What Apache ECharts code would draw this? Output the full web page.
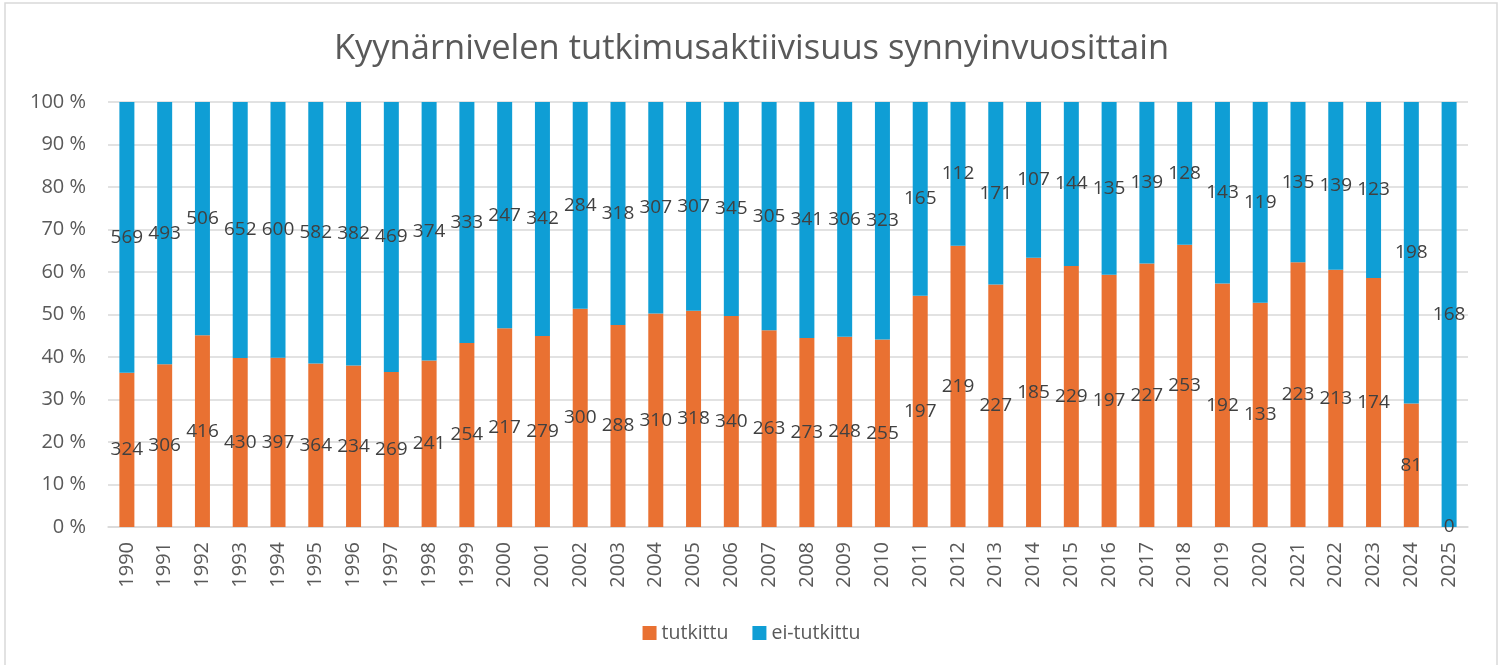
<!DOCTYPE html>
<html lang="fi">
<head>
    <meta charset="utf-8">
    <title>Kyynärnivelen tutkimusaktiivisuus</title>
    <script src="https://cdn.jsdelivr.net/npm/echarts@6/dist/echarts.min.js"></script>
    <style>
        html, body { margin: 0; padding: 0; background: #fff; }
        #chart { width: 1503px; height: 665px; }
    </style>
</head>
<body>
<div id="chart"></div>
<script>
    // synnyinvuodet
    var years = ['1990', '1991', '1992', '1993', '1994', '1995', '1996', '1997', '1998', '1999',
        '2000', '2001', '2002', '2003', '2004', '2005', '2006', '2007', '2008', '2009',
        '2010', '2011', '2012', '2013', '2014', '2015', '2016', '2017', '2018', '2019',
        '2020', '2021', '2022', '2023', '2024', '2025'];
    // tutkitut lukumäärät
    var tutkittu = [324, 306, 416, 430, 397, 364, 234, 269, 241, 254,
        217, 279, 300, 288, 310, 318, 340, 263, 273, 248,
        255, 197, 219, 227, 185, 229, 197, 227, 253, 192,
        133, 223, 213, 174, 81, 0];
    // ei-tutkitut lukumäärät
    var eiTutkittu = [569, 493, 506, 652, 600, 582, 382, 469, 374, 333,
        247, 342, 284, 318, 307, 307, 345, 305, 341, 306,
        323, 165, 112, 171, 107, 144, 135, 139, 128, 143,
        119, 135, 139, 123, 198, 168];

    var font = '"Open Sans", "Liberation Sans", Arial, sans-serif';

    // 100 % pinottu: osuudet lasketaan lukumääristä
    function share(arr, i) {
        var total = tutkittu[i] + eiTutkittu[i];
        return total ? arr[i] / total * 100 : 0;
    }
    var tutkittuPct = tutkittu.map((v, i) => ({value: share(tutkittu, i), raw: v}));
    var eiPct = eiTutkittu.map((v, i) => ({value: share(eiTutkittu, i), raw: v}));

    var labelStyle = {
        show: true,
        position: 'inside',
        color: '#404040',
        fontSize: 19,
        fontFamily: font,
        formatter: p => p.data.raw
    };

    var chart = echarts.init(document.getElementById('chart'));
    var option = {
        animation: false,
        title: {
            text: 'Kyynärnivelen tutkimusaktiivisuus synnyinvuosittain',
            left: 'center',
            top: 27,
            textStyle: {fontSize: 34.5, fontWeight: 'normal', color: '#595959', fontFamily: font}
        },
        legend: {
            bottom: 17,
            left: 'center',
            itemWidth: 14,
            itemHeight: 14,
            itemGap: 24,
            icon: 'rect',
            textStyle: {fontSize: 19.5, color: '#595959', fontFamily: font},
            data: ['tutkittu', 'ei-tutkittu']
        },
        graphic: [{
            type: 'rect',
            shape: {x: 5, y: 3, width: 1492, height: 670},
            style: {fill: 'none', stroke: '#d9d9d9', lineWidth: 1.5},
            silent: true
        }],
        grid: {left: 108, right: 35, top: 102, bottom: 138},
        xAxis: {
            type: 'category',
            data: years,
            axisTick: {show: false},
            axisLine: {lineStyle: {color: '#d9d9d9', width: 1.5}},
            axisLabel: {rotate: 90, margin: 15, fontSize: 20, color: '#595959', fontFamily: font}
        },
        yAxis: {
            type: 'value',
            min: 0,
            max: 100,
            interval: 10,
            axisLine: {show: false},
            axisTick: {show: false},
            splitLine: {lineStyle: {color: '#d9d9d9', width: 1.5}},
            axisLabel: {formatter: '{value} %', margin: 22, fontSize: 20, color: '#595959', fontFamily: font}
        },
        series: [
            {
                name: 'tutkittu',
                type: 'bar',
                stack: 'all',
                barWidth: 15,
                itemStyle: {color: '#E97132'},
                label: labelStyle,
                data: tutkittuPct
            },
            {
                name: 'ei-tutkittu',
                type: 'bar',
                stack: 'all',
                barWidth: 15,
                itemStyle: {color: '#0F9ED5'},
                label: labelStyle,
                data: eiPct
            }
        ]
    };
    chart.setOption(option);
</script>
</body>
</html>
